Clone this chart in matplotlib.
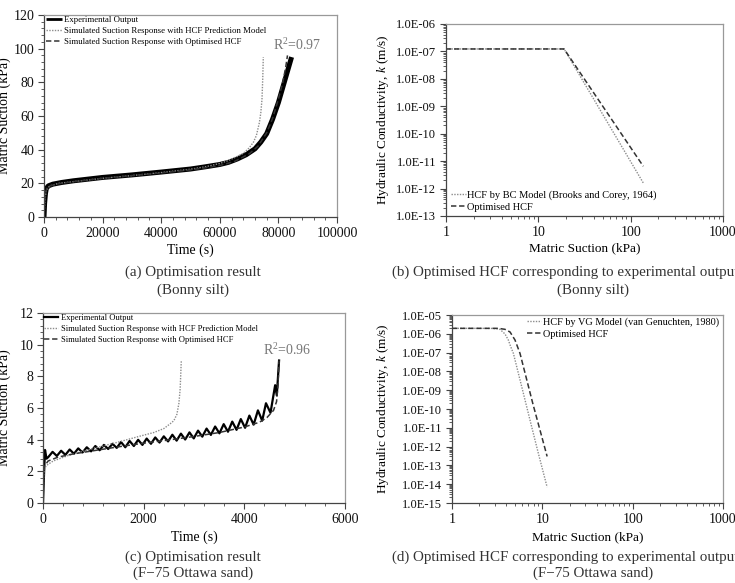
import matplotlib
matplotlib.use('Agg')
import matplotlib.pyplot as plt
from matplotlib.ticker import MultipleLocator, LogLocator, FuncFormatter, NullFormatter, FixedLocator

plt.rcParams['font.family'] = ['Liberation Serif', 'DejaVu Serif']
plt.rcParams['mathtext.fontset'] = 'custom'
plt.rcParams['mathtext.rm'] = 'Liberation Serif'
plt.rcParams['mathtext.it'] = 'Liberation Serif:italic'

# (a) Bonny silt - suction vs time
exp_a_time = [0, 200, 500, 800, 1500, 3000, 6000, 10000, 20000, 30000, 40000, 50000, 55000,
              60000, 63000, 66000, 69000, 72000, 74000, 76000, 78000, 80000, 82000, 83500, 84500]
exp_a_suction = [0, 8, 14, 17, 18.5, 19.5, 20.5, 21.5, 23.5, 25, 26.7, 28.5, 29.8,
                 31.2, 32.5, 34.5, 37, 40.5, 44.5, 49.5, 58, 68, 80, 89, 95]
pred_a_time = [0, 300, 800, 2000, 5000, 10000, 20000, 30000, 40000, 50000, 55000, 60000, 63000,
               66000, 68000, 70000, 71500, 72500, 73500, 74000, 74400, 74650, 74850]
pred_a_suction = [0, 10, 16, 18.5, 20, 21, 23, 24.6, 26.4, 28.4, 29.8, 31.8, 33.6,
                  36, 37.8, 41, 44.5, 48.5, 56, 62, 70, 82, 95]
opt_a_time = [0, 200, 500, 1000, 2000, 5000, 10000, 20000, 30000, 40000, 50000, 55000, 60000,
              65000, 70000, 73000, 76000, 78000, 80000, 81500, 82500, 83100]
opt_a_suction = [0, 9, 14, 17, 18.5, 19.8, 21, 23, 24.6, 26.2, 28, 29.2, 30.6,
                 33, 37.5, 42, 50, 58.5, 70, 80, 89, 96]

# (b) Bonny silt - HCF
bc_b_suction = [1, 19, 137]
bc_b_k = [1.23e-7, 1.23e-7, 1.6e-12]
opt_b_suction = [1, 19, 137]
opt_b_k = [1.23e-7, 1.23e-7, 6.5e-12]

# (c) F-75 Ottawa sand - suction vs time
exp_c_time = [0, 20, 40, 70, 105, 190, 275, 360, 445, 530, 615, 700, 785, 870, 955, 1040,
              1125, 1210, 1295, 1380, 1465, 1550, 1635, 1720, 1805, 1890, 1975, 2060, 2145,
              2230, 2315, 2400, 2485, 2570, 2655, 2740, 2825, 2910, 2995, 3080, 3165, 3250,
              3335, 3420, 3505, 3590, 3675, 3760, 3845, 3930, 4015, 4100, 4185, 4270, 4355,
              4430, 4520, 4612, 4645, 4690]
exp_c_suction = [0, 1.8, 3.35, 2.8, 2.9, 3.23, 2.97, 3.3, 3.04, 3.38, 3.11, 3.45, 3.19, 3.52,
                 3.26, 3.6, 3.33, 3.67, 3.41, 3.74, 3.48, 3.85, 3.52, 3.92, 3.6, 3.99, 3.67,
                 4.07, 3.74, 4.14, 3.82, 4.21, 3.89, 4.31, 3.94, 4.38, 4.01, 4.46, 4.08, 4.57,
                 4.19, 4.7, 4.3, 4.83, 4.4, 4.98, 4.5, 5.14, 4.62, 5.3, 4.75, 5.52, 4.95, 5.85,
                 5.2, 6.3, 5.7, 7.44, 6.8, 9.0]
pred_c_time = [0, 10, 25, 60, 200, 500, 1000, 1500, 1900, 2200, 2400, 2525, 2600, 2660,
               2700, 2725, 2740, 2748]
pred_c_suction = [0, 1.5, 2.1, 2.35, 2.65, 3.0, 3.45, 3.85, 4.2, 4.45, 4.7, 5.0, 5.2, 5.6,
                  6.3, 7.2, 8.4, 9.0]
opt_c_time = [0, 10, 25, 100, 300, 600, 1000, 1500, 2000, 2500, 3000, 3500, 4000, 4300,
              4450, 4580, 4640, 4670, 4690]
opt_c_suction = [0, 1.5, 2.3, 2.65, 2.9, 3.1, 3.3, 3.55, 3.78, 3.98, 4.2, 4.45, 4.8, 5.1,
                 5.4, 5.85, 6.4, 7.5, 9.0]

# (d) F-75 Ottawa sand - HCF
vg_d_suction = [1, 2.0, 2.8, 3.1, 3.4, 3.86, 4.2, 4.46, 4.78, 5.91, 7.3, 9.03, 11.3]
vg_d_k = [1.95e-6, 1.95e-6, 1.93e-6, 1.85e-6, 1.73e-6, 9.8e-7, 4.7e-7, 2.1e-7, 9.1e-8,
          1.55e-9, 2.6e-11, 4.4e-13, 7e-15]
opt_d_suction = [1, 3.26, 3.86, 4.39, 4.98, 5.66, 7.88, 11.3]
opt_d_k = [1.95e-6, 1.95e-6, 1.73e-6, 1.25e-6, 4.7e-7, 9.1e-8, 1.8e-10, 3e-13]

W, H = 735, 583
fig = plt.figure(figsize=(W / 100, H / 100), dpi=100)
fig.patch.set_facecolor('white')


def box(x0, y0, x1, y1):
    return [x0 / W, 1 - y1 / H, (x1 - x0) / W, (y1 - y0) / H]


def fxy(px, py):
    return (px / W, 1 - py / H)


def style(ax):
    for s in ['left', 'bottom']:
        ax.spines[s].set_color('#444444')
    for s in ['top', 'right']:
        ax.spines[s].set_color('#999999')
    for s in ax.spines.values():
        s.set_linewidth(0.9)
    ax.tick_params(which='both', direction='out', color='#444444', labelcolor='#111111',
                   top=False, right=False)
    ax.tick_params(which='major', length=4, labelsize=10, pad=3)
    ax.tick_params(which='minor', length=2.5)


DOT = dict(color='#8c8c8c', lw=1.0, linestyle=(0, (1, 1)))
DASH = dict(color='#333333', lw=1.1, linestyle=(0, (3.5, 1.8)))

# ---------- (a) ----------
ax = fig.add_axes(box(44, 15, 337, 217))
style(ax)
ax.plot(exp_a_time, exp_a_suction, color='black', lw=3.6, solid_capstyle='butt',
        label='Experimental Output')
ax.plot(pred_a_time, pred_a_suction, label='Simulated Suction Response with HCF Prediction Model', **DOT)
ax.plot(opt_a_time, opt_a_suction, label='Simulated Suction Response with Optimised HCF', **DASH)
ax.set_xlim(0, 100000)
ax.set_ylim(0, 120)
ax.xaxis.set_major_locator(MultipleLocator(20000))
ax.xaxis.set_minor_locator(MultipleLocator(4000))
ax.yaxis.set_major_locator(MultipleLocator(20))
ax.yaxis.set_minor_locator(MultipleLocator(4))
ax.set_xlabel('Time (s)', fontsize=10, va='center')
ax.set_ylabel('Matric Suction (kPa)', fontsize=10, va='center')
ax.xaxis.set_label_coords(0.5, (217 - 250) / 202)
ax.yaxis.set_label_coords((4 - 44) / 293, 0.5)
ax.text(78000, 102, 'R$^2$=0.97', color='#777777', fontsize=10, va='center', ha='left')
leg = ax.legend(loc='upper left', bbox_to_anchor=fxy(46, 16), bbox_transform=fig.transFigure,
                frameon=False, fontsize=6.3, handlelength=1.8, handletextpad=0.3,
                labelspacing=0.35, borderpad=0, borderaxespad=0)
leg.get_lines()[0].set_linewidth(2.0)

# ---------- (b) ----------
ax = fig.add_axes(box(446, 24, 723, 216))
style(ax)
ax.set_xscale('log')
ax.set_yscale('log')
ax.plot(bc_b_suction, bc_b_k, label='HCF by BC Model (Brooks and Corey, 1964)', **DOT)
ax.plot(opt_b_suction, opt_b_k, label='Optimised HCF', **DASH)
ax.set_xlim(1, 1000)
ax.set_ylim(1e-13, 1e-6)
ax.yaxis.set_major_locator(LogLocator(base=10, numticks=20))
ax.yaxis.set_minor_locator(LogLocator(base=10, subs=range(2, 10), numticks=100))
ax.yaxis.set_minor_formatter(NullFormatter())
ax.yaxis.set_major_formatter(FuncFormatter(lambda v, p: f'{v:.1E}'))
ax.xaxis.set_major_locator(FixedLocator([1, 10, 100, 1000]))
ax.xaxis.set_major_formatter(FuncFormatter(lambda v, p: f'{v:g}'))
ax.xaxis.set_minor_locator(LogLocator(base=10, subs=range(2, 10), numticks=100))
ax.xaxis.set_minor_formatter(NullFormatter())
ax.tick_params(axis='y', which='major', labelsize=9)
ax.set_xlabel('Matric Suction (kPa)', fontsize=9.5, va='center')
ax.set_ylabel('Hydraulic Conductivity, $k$ (m/s)', fontsize=9.5, va='center')
ax.xaxis.set_label_coords(0.5, (216 - 248) / 192)
ax.yaxis.set_label_coords((383 - 446) / 277, 0.5)
ax.legend(loc='upper left', bbox_to_anchor=fxy(451, 190), bbox_transform=fig.transFigure,
          frameon=False, fontsize=7.5, handlelength=1.4, handletextpad=0.15,
          labelspacing=0.3, borderpad=0, borderaxespad=0)

# ---------- (c) ----------
ax = fig.add_axes(box(43, 313, 345, 503))
style(ax)
ax.plot(exp_c_time, exp_c_suction, color='black', lw=1.6, label='Experimental Output')
ax.plot(pred_c_time, pred_c_suction, label='Simulated Suction Response with HCF Prediction Model', **DOT)
ax.plot(opt_c_time, opt_c_suction, label='Simulated Suction Response with Optimised HCF', **DASH)
ax.set_xlim(0, 6000)
ax.set_ylim(0, 12)
ax.xaxis.set_major_locator(MultipleLocator(2000))
ax.xaxis.set_minor_locator(MultipleLocator(400))
ax.yaxis.set_major_locator(MultipleLocator(2))
ax.yaxis.set_minor_locator(MultipleLocator(0.4))
ax.set_xlabel('Time (s)', fontsize=10, va='center')
ax.set_ylabel('Matric Suction (kPa)', fontsize=10, va='center')
ax.xaxis.set_label_coords(0.5, (503 - 537) / 190)
ax.yaxis.set_label_coords((4 - 43) / 302, 0.5)
ax.text(4370, 9.65, 'R$^2$=0.96', color='#777777', fontsize=10, va='center', ha='left')
leg = ax.legend(loc='upper left', bbox_to_anchor=fxy(44, 314), bbox_transform=fig.transFigure,
                frameon=False, fontsize=6.1, handlelength=1.7, handletextpad=0.3,
                labelspacing=0.33, borderpad=0, borderaxespad=0)
leg.get_lines()[0].set_linewidth(1.6)

# ---------- (d) ----------
ax = fig.add_axes(box(452, 315, 723, 503))
style(ax)
ax.set_xscale('log')
ax.set_yscale('log')
ax.plot(vg_d_suction, vg_d_k, label='HCF by VG Model (van Genuchten, 1980)', **DOT)
ax.plot(opt_d_suction, opt_d_k, label='Optimised HCF', **DASH)
ax.set_xlim(1, 1000)
ax.set_ylim(1e-15, 1e-5)
ax.yaxis.set_major_locator(LogLocator(base=10, numticks=20))
ax.yaxis.set_minor_locator(LogLocator(base=10, subs=range(2, 10), numticks=100))
ax.yaxis.set_minor_formatter(NullFormatter())
ax.yaxis.set_major_formatter(FuncFormatter(lambda v, p: f'{v:.1E}'))
ax.xaxis.set_major_locator(FixedLocator([1, 10, 100, 1000]))
ax.xaxis.set_major_formatter(FuncFormatter(lambda v, p: f'{v:g}'))
ax.xaxis.set_minor_locator(LogLocator(base=10, subs=range(2, 10), numticks=100))
ax.xaxis.set_minor_formatter(NullFormatter())
ax.tick_params(axis='y', which='major', labelsize=9)
ax.set_xlabel('Matric Suction (kPa)', fontsize=9.5, va='center')
ax.set_ylabel('Hydraulic Conductivity, $k$ (m/s)', fontsize=9.5, va='center')
ax.xaxis.set_label_coords(0.5, (503 - 537) / 188)
ax.yaxis.set_label_coords((383 - 452) / 271, 0.5)
ax.legend(loc='upper left', bbox_to_anchor=fxy(527, 317), bbox_transform=fig.transFigure,
          frameon=False, fontsize=7.4, handlelength=1.4, handletextpad=0.15,
          labelspacing=0.3, borderpad=0, borderaxespad=0)

# ---------- captions ----------
cap = dict(fontsize=10.8, color='#333333', va='center')
fig.text(193 / W, 1 - 272 / H, '(a) Optimisation result', ha='center', **cap)
fig.text(193 / W, 1 - 290 / H, '(Bonny silt)', ha='center', **cap)
fig.text(392 / W, 1 - 272 / H, '(b) Optimised HCF corresponding to experimental output', ha='left', **cap)
fig.text(593 / W, 1 - 290 / H, '(Bonny silt)', ha='center', **cap)
fig.text(193 / W, 1 - 557 / H, '(c) Optimisation result', ha='center', **cap)
fig.text(193 / W, 1 - 573 / H, '(F\u221275 Ottawa sand)', ha='center', **cap)
fig.text(392 / W, 1 - 557 / H, '(d) Optimised HCF corresponding to experimental output', ha='left', **cap)
fig.text(593 / W, 1 - 573 / H, '(F\u221275 Ottawa sand)', ha='center', **cap)

fig.savefig('out.png', dpi=100)
